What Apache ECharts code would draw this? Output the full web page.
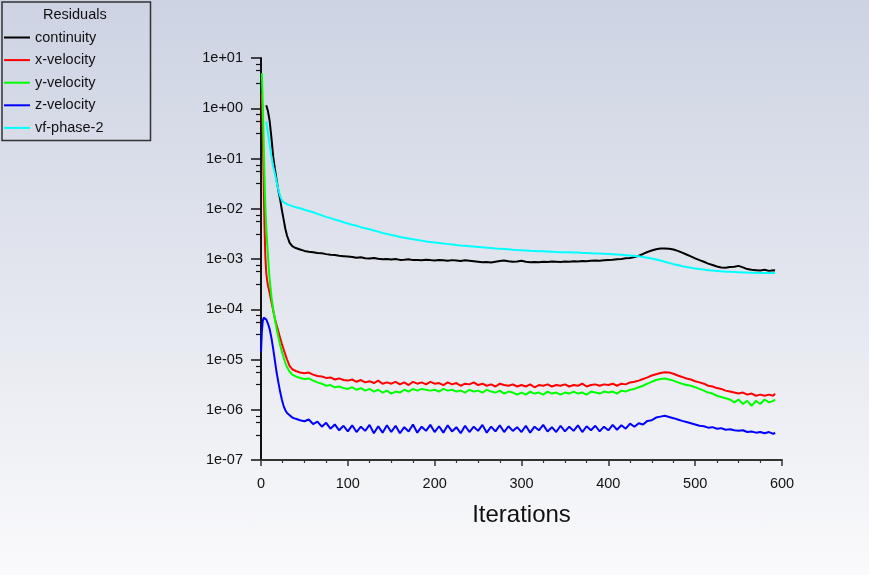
<!DOCTYPE html>
<html>
<head>
<meta charset="utf-8">
<title>Residuals</title>
<script src="https://cdn.jsdelivr.net/npm/echarts@6/dist/echarts.min.js"></script>
<style>
  html, body { margin: 0; padding: 0; }
  #main {
    width: 869px;
    height: 575px;
    background: linear-gradient(to bottom, #cdd3e3 0%, #e3e6ee 50%, #fafafc 100%);
  }
</style>
</head>
<body>
<div id="main"></div>
<script>
// iteration numbers shared by all residual series
const iterations = [0, 1, 2, 3, 4, 5, 6, 7, 8, 9, 10, 12, 14, 16, 18, 20, 22, 24, 26, 28, 30, 33, 36, 40, 45,
  50, 55, 60, 65, 70, 75, 80, 85, 90, 95,
  100, 105, 110, 115, 120, 125, 130, 135, 140, 145,
  150, 155, 160, 165, 170, 175, 180, 185, 190, 195,
  200, 205, 210, 215, 220, 225, 230, 235, 240, 245,
  250, 255, 260, 265, 270, 275, 280, 285, 290, 295,
  300, 305, 310, 315, 320, 325, 330, 335, 340, 345,
  350, 355, 360, 365, 370, 375, 380, 385, 390, 395,
  400, 405, 410, 415, 420, 425, 430, 435, 440, 445,
  450, 455, 460, 465, 470, 475, 480, 485, 490, 495,
  500, 505, 510, 515, 520, 525, 530, 535, 540, 545,
  550, 555, 560, 565, 570, 575, 580, 585, 590, 592];

const continuity = [null, null, null, null, null, null, 1.15, 1.05, 0.88, 0.70, 0.55,
  0.26, 0.11, 0.062, 0.037, 0.023, 0.0155, 0.0095, 0.0062, 0.0040, 0.0029, 0.0021, 0.0018, 0.00165, 0.00155,
  1.45e-3, 1.40e-3, 1.36e-3, 1.32e-3, 1.30e-3, 1.25e-3, 1.22e-3, 1.20e-3, 1.16e-3, 1.14e-3,
  1.12e-3, 1.10e-3, 1.06e-3, 1.08e-3, 1.04e-3, 1.02e-3, 1.05e-3, 1.01e-3, 0.99e-3, 1.00e-3,
  0.98e-3, 1.00e-3, 0.96e-3, 0.97e-3, 0.99e-3, 0.95e-3, 0.96e-3, 0.94e-3, 0.97e-3, 0.95e-3,
  0.93e-3, 0.96e-3, 0.94e-3, 0.92e-3, 0.95e-3, 0.93e-3, 0.91e-3, 0.94e-3, 0.92e-3, 0.90e-3,
  0.88e-3, 0.86e-3, 0.87e-3, 0.85e-3, 0.88e-3, 0.91e-3, 0.93e-3, 0.90e-3, 0.88e-3, 0.89e-3,
  0.92e-3, 0.88e-3, 0.86e-3, 0.87e-3, 0.86e-3, 0.88e-3, 0.87e-3, 0.89e-3, 0.88e-3, 0.87e-3,
  0.89e-3, 0.88e-3, 0.90e-3, 0.89e-3, 0.91e-3, 0.90e-3, 0.92e-3, 0.93e-3, 0.92e-3, 0.94e-3,
  0.96e-3, 0.97e-3, 0.99e-3, 1.00e-3, 1.03e-3, 1.05e-3, 1.09e-3, 1.16e-3, 1.26e-3, 1.38e-3,
  1.48e-3, 1.56e-3, 1.61e-3, 1.62e-3, 1.60e-3, 1.54e-3, 1.45e-3, 1.34e-3, 1.23e-3, 1.13e-3,
  1.03e-3, 0.95e-3, 0.88e-3, 0.81e-3, 0.76e-3, 0.71e-3, 0.68e-3, 0.67e-3, 0.69e-3, 0.70e-3,
  0.73e-3, 0.68e-3, 0.63e-3, 0.61e-3, 0.60e-3, 0.59e-3, 0.61e-3, 0.58e-3, 0.60e-3, 0.59e-3];

const xVelocity = [null, 2.0, 0.35, 0.04, 0.005, 0.0011, 0.00055, 0.00038, 0.0003, 0.00025, 0.00021,
  1.4e-4, 9.5e-5, 6.5e-5, 4.8e-5, 3.6e-5, 2.7e-5, 2.05e-5, 1.6e-5, 1.25e-5, 1.0e-5, 7.4e-6, 6.4e-6, 5.9e-6, 5.5e-6,
  5.3e-6, 5.5e-6, 5.0e-6, 4.7e-6, 4.6e-6, 4.3e-6, 4.4e-6, 4.0e-6, 4.2e-6, 3.9e-6,
  3.8e-6, 4.0e-6, 3.6e-6, 3.9e-6, 3.5e-6, 3.7e-6, 3.4e-6, 3.8e-6, 3.3e-6, 3.5e-6,
  3.3e-6, 3.6e-6, 3.2e-6, 3.5e-6, 3.1e-6, 3.6e-6, 3.3e-6, 3.5e-6, 3.2e-6, 3.6e-6,
  3.3e-6, 3.4e-6, 3.1e-6, 3.5e-6, 3.2e-6, 3.4e-6, 3.0e-6, 3.3e-6, 3.2e-6, 3.5e-6,
  3.1e-6, 3.3e-6, 3.0e-6, 3.2e-6, 2.9e-6, 3.3e-6, 3.1e-6, 3.0e-6, 3.2e-6, 2.9e-6,
  3.1e-6, 2.9e-6, 3.2e-6, 2.8e-6, 3.1e-6, 3.0e-6, 3.2e-6, 2.9e-6, 3.1e-6, 3.0e-6,
  3.2e-6, 2.9e-6, 3.1e-6, 3.0e-6, 3.3e-6, 2.9e-6, 3.1e-6, 3.2e-6, 3.0e-6, 3.2e-6,
  3.1e-6, 3.3e-6, 3.0e-6, 3.3e-6, 3.2e-6, 3.5e-6, 3.6e-6, 3.8e-6, 4.1e-6, 4.4e-6,
  4.8e-6, 5.1e-6, 5.4e-6, 5.6e-6, 5.5e-6, 5.2e-6, 4.8e-6, 4.5e-6, 4.2e-6, 4.0e-6,
  3.7e-6, 3.5e-6, 3.3e-6, 3.0e-6, 2.9e-6, 2.7e-6, 2.6e-6, 2.4e-6, 2.3e-6, 2.2e-6,
  2.1e-6, 2.2e-6, 2.0e-6, 2.1e-6, 1.9e-6, 2.0e-6, 1.9e-6, 2.0e-6, 1.9e-6, 2.1e-6];

const yVelocity = [null, 5.0, 1.2, 0.25, 0.045, 0.011, 0.0045, 0.0022, 0.0012, 0.00065, 0.0004,
  1.8e-4, 1.0e-4, 6.3e-5, 4.1e-5, 2.8e-5, 1.95e-5, 1.45e-5, 1.1e-5, 8.6e-6, 7.0e-6, 5.7e-6, 5.0e-6, 4.6e-6, 4.3e-6,
  4.1e-6, 4.2e-6, 3.8e-6, 3.5e-6, 3.3e-6, 3.0e-6, 3.1e-6, 2.8e-6, 2.9e-6, 2.7e-6,
  2.6e-6, 2.8e-6, 2.5e-6, 2.7e-6, 2.4e-6, 2.6e-6, 2.3e-6, 2.5e-6, 2.2e-6, 2.4e-6,
  2.1e-6, 2.3e-6, 2.2e-6, 2.5e-6, 2.3e-6, 2.6e-6, 2.4e-6, 2.6e-6, 2.5e-6, 2.4e-6,
  2.5e-6, 2.3e-6, 2.6e-6, 2.4e-6, 2.5e-6, 2.3e-6, 2.4e-6, 2.2e-6, 2.5e-6, 2.3e-6,
  2.4e-6, 2.2e-6, 2.5e-6, 2.3e-6, 2.2e-6, 2.4e-6, 2.1e-6, 2.3e-6, 2.2e-6, 2.0e-6,
  2.2e-6, 2.0e-6, 2.3e-6, 2.1e-6, 2.2e-6, 2.0e-6, 2.3e-6, 2.1e-6, 2.2e-6, 2.0e-6,
  2.2e-6, 2.1e-6, 2.3e-6, 2.1e-6, 2.2e-6, 2.0e-6, 2.3e-6, 2.2e-6, 2.1e-6, 2.3e-6,
  2.2e-6, 2.3e-6, 2.1e-6, 2.4e-6, 2.3e-6, 2.5e-6, 2.6e-6, 2.8e-6, 3.0e-6, 3.3e-6,
  3.6e-6, 3.9e-6, 4.1e-6, 4.2e-6, 4.0e-6, 3.8e-6, 3.5e-6, 3.3e-6, 3.1e-6, 3.0e-6,
  2.8e-6, 2.6e-6, 2.4e-6, 2.2e-6, 2.1e-6, 1.9e-6, 1.8e-6, 1.7e-6, 1.6e-6, 1.4e-6,
  1.6e-6, 1.3e-6, 1.5e-6, 1.2e-6, 1.5e-6, 1.3e-6, 1.6e-6, 1.4e-6, 1.5e-6, 1.6e-6];

const zVelocity = [1.4e-5, 3.6e-5, 5.8e-5, 6.8e-5, 7.0e-5, 6.8e-5, 6.3e-5, 5.8e-5, 5.2e-5, 4.6e-5, 4.0e-5,
  2.7e-5, 1.65e-5, 9.5e-6, 5.5e-6, 3.5e-6, 2.3e-6, 1.6e-6, 1.2e-6, 9.8e-7, 8.6e-7, 7.8e-7, 7.0e-7, 6.6e-7, 6.2e-7,
  5.9e-7, 6.4e-7, 5.2e-7, 5.8e-7, 4.6e-7, 5.5e-7, 4.2e-7, 5.1e-7, 3.9e-7, 4.8e-7,
  3.7e-7, 4.9e-7, 3.6e-7, 4.6e-7, 3.8e-7, 5.0e-7, 3.4e-7, 4.7e-7, 3.5e-7, 4.9e-7,
  3.6e-7, 4.8e-7, 3.4e-7, 4.5e-7, 3.7e-7, 5.1e-7, 3.5e-7, 4.6e-7, 3.8e-7, 5.0e-7,
  3.6e-7, 4.7e-7, 3.5e-7, 4.9e-7, 3.7e-7, 4.5e-7, 3.4e-7, 4.8e-7, 3.6e-7, 4.6e-7,
  3.8e-7, 5.0e-7, 3.5e-7, 4.6e-7, 3.7e-7, 4.9e-7, 3.6e-7, 4.7e-7, 3.8e-7, 4.5e-7,
  3.6e-7, 4.8e-7, 3.5e-7, 4.6e-7, 3.9e-7, 5.0e-7, 3.7e-7, 4.5e-7, 3.6e-7, 4.8e-7,
  3.7e-7, 4.6e-7, 3.8e-7, 4.9e-7, 3.6e-7, 4.7e-7, 3.9e-7, 4.8e-7, 3.7e-7, 4.6e-7,
  3.9e-7, 5.0e-7, 4.0e-7, 4.9e-7, 4.2e-7, 5.3e-7, 4.6e-7, 5.4e-7, 5.1e-7, 6.0e-7,
  6.2e-7, 7.0e-7, 7.3e-7, 7.6e-7, 7.2e-7, 6.8e-7, 6.4e-7, 6.0e-7, 5.7e-7, 5.4e-7,
  5.1e-7, 4.8e-7, 4.7e-7, 4.4e-7, 4.5e-7, 4.2e-7, 4.3e-7, 4.0e-7, 4.1e-7, 3.9e-7,
  3.8e-7, 3.9e-7, 3.6e-7, 3.7e-7, 3.5e-7, 3.6e-7, 3.4e-7, 3.6e-7, 3.3e-7, 3.5e-7];

const vfPhase2 = [null, null, null, null, null, null, 0.55, 0.42, 0.32, 0.25, 0.18,
  0.11, 0.07, 0.05, 0.034, 0.024, 0.018, 0.0148, 0.0135, 0.0128, 0.0123, 0.0118, 0.0113, 0.0107, 0.0102,
  9.55e-3, 9.0e-3, 8.5e-3, 7.9e-3, 7.4e-3, 6.9e-3, 6.5e-3, 6.1e-3, 5.75e-3, 5.4e-3,
  5.1e-3, 4.8e-3, 4.6e-3, 4.3e-3, 4.1e-3, 3.9e-3, 3.7e-3, 3.5e-3, 3.3e-3, 3.16e-3,
  3.0e-3, 2.9e-3, 2.75e-3, 2.66e-3, 2.57e-3, 2.48e-3, 2.4e-3, 2.32e-3, 2.24e-3, 2.19e-3,
  2.14e-3, 2.09e-3, 2.04e-3, 2.0e-3, 1.95e-3, 1.9e-3, 1.86e-3, 1.83e-3, 1.80e-3, 1.77e-3,
  1.74e-3, 1.71e-3, 1.68e-3, 1.65e-3, 1.62e-3, 1.60e-3, 1.58e-3, 1.56e-3, 1.53e-3, 1.51e-3,
  1.50e-3, 1.48e-3, 1.46e-3, 1.45e-3, 1.43e-3, 1.42e-3, 1.41e-3, 1.40e-3, 1.38e-3, 1.37e-3,
  1.36e-3, 1.36e-3, 1.35e-3, 1.34e-3, 1.32e-3, 1.31e-3, 1.30e-3, 1.29e-3, 1.29e-3, 1.27e-3,
  1.26e-3, 1.25e-3, 1.23e-3, 1.21e-3, 1.19e-3, 1.17e-3, 1.15e-3, 1.13e-3, 1.10e-3, 1.06e-3,
  1.02e-3, 0.98e-3, 0.93e-3, 0.88e-3, 0.83e-3, 0.79e-3, 0.76e-3, 0.72e-3, 0.69e-3, 0.67e-3,
  0.65e-3, 0.63e-3, 0.62e-3, 0.60e-3, 0.59e-3, 0.58e-3, 0.57e-3, 0.56e-3, 0.555e-3, 0.55e-3,
  0.545e-3, 0.54e-3, 0.537e-3, 0.535e-3, 0.53e-3, 0.528e-3, 0.525e-3, 0.525e-3, 0.525e-3, 0.525e-3];

const seriesNames = ['continuity', 'x-velocity', 'y-velocity', 'z-velocity', 'vf-phase-2'];
const seriesColors = ['#000000', '#ff0000', '#00ff00', '#0000ff', '#00ffff'];
const seriesValues = [continuity, xVelocity, yVelocity, zVelocity, vfPhase2];

// decade exponents of the y axis (1e-07 .. 1e+01)
const yMinExp = -7;
const yMaxExp = 1;
// minor ticks inside each decade, as fraction of the decade
const minorTickFractions = [0.5, 0.75, 0.875];

const FONT = 'Liberation Sans, Arial, sans-serif';

// the y axis is a log10 axis, so points go on it as exponents
function toPoints(values) {
  let pts = [];
  values.forEach(function (v, i) {
    if (v !== null) pts.push([iterations[i], Math.log10(v)]);
  });
  return pts;
}

function expLabel(v) {
  let e = Math.round(v);
  return '1e' + (e < 0 ? '-' : '+') + String(Math.abs(e)).padStart(2, '0');
}

let minorTicks = [];
for (let e = yMinExp; e < yMaxExp; e++) {
  minorTickFractions.forEach(function (f) { minorTicks.push(e + f); });
}

let chart = echarts.init(document.getElementById('main'), null, { renderer: 'canvas' });

let option = {
  animation: false,
  backgroundColor: 'transparent',
  title: {
    text: 'Residuals',
    left: 43,
    top: 7,
    padding: 0,
    textStyle: { fontFamily: FONT, fontSize: 14.5, fontWeight: 'normal', color: '#111' }
  },
  legend: {
    data: seriesNames,
    orient: 'vertical',
    left: 2,
    top: 2,
    padding: [28, 47, 5, 2],
    itemGap: 7.6,
    itemWidth: 26,
    itemHeight: 2,
    icon: 'rect',
    selectedMode: false,
    borderColor: '#333',
    borderWidth: 1.5,
    textStyle: { fontFamily: FONT, fontSize: 14.5, color: '#111', lineHeight: 14 }
  },
  grid: {
    left: 261,
    top: 58,
    width: 521,
    height: 402,
    containLabel: false
  },
  xAxis: {
    type: 'value',
    min: 0,
    max: 600,
    interval: 100,
    name: 'Iterations',
    nameLocation: 'middle',
    nameGap: 43,
    nameTextStyle: { fontFamily: FONT, fontSize: 24, color: '#111' },
    axisLine: { show: true, onZero: false, lineStyle: { color: '#333', width: 2 } },
    axisTick: { show: true, length: 6, lineStyle: { color: '#333', width: 1.5 } },
    minorTick: { show: true, splitNumber: 4, length: 3, lineStyle: { color: '#333', width: 1.2 } },
    axisLabel: { fontFamily: FONT, fontSize: 14.5, color: '#111', margin: 16 },
    splitLine: { show: false }
  },
  yAxis: [{
    type: 'value',
    min: yMinExp,
    max: yMaxExp,
    interval: 1,
    axisLine: { show: true, onZero: false, lineStyle: { color: '#111', width: 2 } },
    axisTick: { show: true, length: 10, lineStyle: { color: '#111', width: 1.5 } },
    axisLabel: { fontFamily: FONT, fontSize: 14.5, color: '#111', margin: 18, formatter: expLabel },
    splitLine: { show: false }
  }, {
    type: 'value',
    min: yMinExp,
    max: yMaxExp,
    position: 'left',
    offset: 0,
    axisLine: { show: false, onZero: false },
    axisTick: { show: true, length: 5, customValues: minorTicks, lineStyle: { color: '#111', width: 1.2 } },
    axisLabel: { show: false },
    splitLine: { show: false }
  }],
  series: seriesNames.map(function (name, i) {
    return {
      name: name,
      type: 'line',
      yAxisIndex: 0,
      data: toPoints(seriesValues[i]),
      showSymbol: false,
      symbol: 'none',
      color: seriesColors[i],
      lineStyle: { color: seriesColors[i], width: 2 },
      z: 2 + i
    };
  })
};

chart.setOption(option);
</script>
</body>
</html>
